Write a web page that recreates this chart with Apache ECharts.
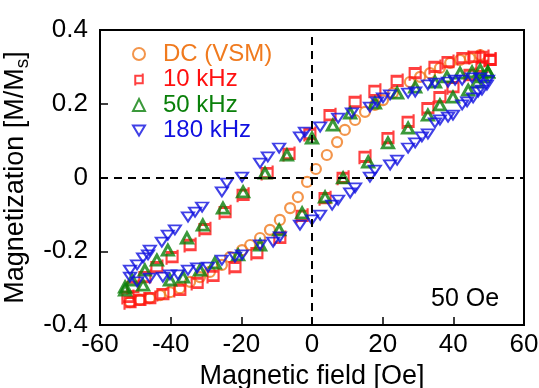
<!DOCTYPE html>
<html>
<head>
<meta charset="utf-8">
<script src="https://cdn.jsdelivr.net/npm/echarts@6/dist/echarts.min.js"></script>
<style>
html,body{margin:0;padding:0;background:#fff;}
#c{width:539px;height:388px;}
</style>
</head>
<body>
<div id="c"></div>
<script>
// [H (Oe), M (M/Ms)]
const dcData = [[-51.5,-0.338],[-48.7,-0.332],[-45.9,-0.327],[-43.0,-0.319],[-40.2,-0.311],[-37.4,-0.300],[-34.5,-0.283],[-31.7,-0.270],[-28.9,-0.256],[-25.5,-0.237],[-23.2,-0.216],[-19.8,-0.197],[-17.5,-0.183],[-14.7,-0.164],[-11.9,-0.142],[-9.1,-0.115],[-6.2,-0.083],[-4.0,-0.053],[-1.4,-0.012],[1.1,0.023],[4.2,0.061],[7.1,0.096],[9.3,0.129],[12.2,0.156],[15.0,0.178],[17.8,0.197],[20.1,0.210],[22.9,0.229],[27.7,0.259],[30.6,0.273],[33.4,0.283],[36.2,0.297],[39.1,0.311],[41.9,0.319],[44.7,0.324],[47.6,0.332]];

const k10Upper = [[50.4,0.319],[48.4,0.327],[46.1,0.327],[42.7,0.324],[38.5,0.313],[34.8,0.300],[29.2,0.283],[24.1,0.262],[17.8,0.235],[12.2,0.205],[5.1,0.169],[-0.6,0.118],[-6.5,0.064],[-12.7,0.012],[-19.5,-0.047],[-24.6,-0.094],[-30.3,-0.140],[-34.5,-0.183],[-39.6,-0.216],[-43.9,-0.243],[-47.3,-0.270],[-50.7,-0.297],[-52.1,-0.324]];
const k10Lower = [[-51.5,-0.338],[-48.7,-0.332],[-45.9,-0.327],[-42.2,-0.316],[-37.4,-0.305],[-32.5,-0.286],[-28.0,-0.267],[-21.8,-0.243],[-15.6,-0.205],[-9.1,-0.164],[-2.8,-0.104],[3.7,-0.056],[8.8,-0.001],[15.0,0.056],[21.5,0.107],[27.2,0.151],[32.8,0.188],[36.2,0.218],[39.9,0.245],[44.7,0.278],[48.1,0.300],[50.4,0.319]];

const k50Upper = [[49.8,0.286],[47.6,0.292],[45.3,0.286],[41.9,0.283],[38.2,0.273],[34.8,0.259],[29.2,0.245],[24.1,0.229],[17.8,0.202],[10.8,0.175],[5.9,0.142],[0.0,0.107],[-7.1,0.061],[-13.3,0.012],[-19.5,-0.039],[-25.2,-0.083],[-30.9,-0.129],[-35.4,-0.164],[-40.8,-0.197],[-43.9,-0.224],[-47.3,-0.251],[-50.9,-0.278],[-52.9,-0.297]];
const k50Lower = [[-52.9,-0.305],[-47.8,-0.292],[-40.2,-0.278],[-36.5,-0.270],[-31.7,-0.251],[-27.5,-0.232],[-20.9,-0.210],[-14.7,-0.183],[-9.3,-0.142],[-2.8,-0.096],[3.7,-0.053],[8.8,-0.001],[15.9,0.042],[21.5,0.094],[27.2,0.134],[32.8,0.169],[36.2,0.197],[39.9,0.218],[44.2,0.237],[46.7,0.259],[48.4,0.273],[49.8,0.286]];

const k180Upper = [[49.8,0.264],[47.6,0.270],[45.3,0.270],[42.5,0.264],[40.5,0.264],[38.5,0.259],[34.8,0.256],[32.8,0.251],[29.2,0.232],[27.2,0.229],[22.1,0.224],[20.1,0.216],[18.4,0.205],[16.4,0.191],[11.3,0.175],[7.4,0.161],[2.3,0.137],[-2.0,0.123],[-3.4,0.110],[-9.3,0.080],[-12.5,0.056],[-14.7,0.039],[-19.8,0.001],[-24.1,-0.015],[-25.5,-0.039],[-31.1,-0.080],[-33.1,-0.094],[-35.1,-0.107],[-38.8,-0.142],[-40.8,-0.156],[-42.5,-0.175],[-45.9,-0.197],[-46.4,-0.210],[-47.8,-0.218],[-49.5,-0.237],[-51.5,-0.251],[-51.5,-0.270]];
const k180Lower = [[-49.5,-0.283],[-45.9,-0.273],[-42.2,-0.270],[-40.2,-0.264],[-37.9,-0.264],[-35.1,-0.251],[-32.5,-0.245],[-29.4,-0.243],[-25.5,-0.224],[-21.8,-0.216],[-19.8,-0.210],[-14.7,-0.183],[-11.0,-0.175],[-9.1,-0.161],[-3.4,-0.129],[0.0,-0.115],[2.3,-0.102],[5.7,-0.075],[7.4,-0.061],[10.8,-0.042],[12.2,-0.028],[16.4,0.001],[17.8,0.020],[22.1,0.034],[24.1,0.047],[27.2,0.080],[29.2,0.094],[31.1,0.110],[32.8,0.118],[34.8,0.148],[36.2,0.156],[38.5,0.164],[39.9,0.169],[42.5,0.197],[43.9,0.205],[45.6,0.216],[47.0,0.232],[48.1,0.237],[49.5,0.251]];

const seriesNames = ['DC (VSM)', '10 kHz', '50 kHz', '180 kHz'];
const xTicks = [-60, -40, -20, 0, 20, 40, 60];
const yTicks = [-0.4, -0.2, 0, 0.2, 0.4];
</script>
<script>
const FONT = '"Liberation Sans", Arial, Helvetica, sans-serif';
const colors = ['#F07A1E', '#FF1010', '#0A800A', '#1010E0'];
const chart = echarts.init(document.getElementById('c'), null, {renderer: 'canvas'});
const redPath = 'path://M0,3 L10,3 L10,13 L0,13 Z M10,0 L10,3 M0,13 L0,16';
const downTri = 'path://M0,0 L12,0 L6,10 Z';
const legendIcons = ['circle', redPath, 'triangle', downTri];

const option = {
  animation: false,
  backgroundColor: '#fff',
  grid: {left: 100, right: 15, top: 30, bottom: 63, outerBoundsMode: 'none', containLabel: false,
    show: true, borderColor: '#000', borderWidth: 2, backgroundColor: 'transparent'},
  xAxis: {
    type: 'value', min: xTicks[0], max: xTicks[xTicks.length-1], interval: 20,
    name: 'Magnetic field [Oe]', nameLocation: 'middle', nameGap: 38,
    nameTextStyle: {fontFamily: FONT, fontSize: 27, color: '#000'},
    axisLine: {show: true, onZero: false, lineStyle: {color: '#000', width: 2}},
    axisTick: {show: true, inside: true, length: 8, lineStyle: {color: '#000', width: 1.5}},
    axisLabel: {fontFamily: FONT, fontSize: 26, color: '#000', margin: 7},
    splitLine: {show: false}
  },
  yAxis: {
    type: 'value', min: yTicks[0], max: yTicks[yTicks.length-1], interval: 0.2,
    name: 'Magnetization [M/M{sub|s}]', nameLocation: 'middle', nameGap: 56,
    nameTextStyle: {fontFamily: FONT, fontSize: 27, color: '#000',
      rich: {sub: {fontFamily: FONT, fontSize: 19, color: '#000', padding: [14, 0, 0, 0], verticalAlign: 'bottom'}}},
    axisLine: {show: true, onZero: false, lineStyle: {color: '#000', width: 2}},
    axisTick: {show: true, inside: true, length: 8, lineStyle: {color: '#000', width: 1.5}},
    axisLabel: {fontFamily: FONT, fontSize: 26, color: '#000', margin: 12,
      formatter: v => (Math.abs(v) < 1e-9 ? '0' : String(+v.toFixed(1)))},
    splitLine: {show: false}
  },
  legend: {
    orient: 'vertical', left: 127, top: 37, itemWidth: 12, itemHeight: 12, itemGap: 1.5,
    data: seriesNames.map((n, i) => ({name: n, icon: legendIcons[i], textStyle: {color: colors[i]}})),
    textStyle: {fontFamily: FONT, fontSize: 24, lineHeight: 24, padding: [0, 0, 0, 13]}
  },
  graphic: [{
    type: 'text', left: 431, top: 287,
    style: {text: '50 Oe', fontFamily: FONT, fontSize: 25, fill: '#000'}
  }],
  series: [
    {
      name: seriesNames[0], type: 'scatter', data: dcData,
      symbol: 'circle', symbolSize: 10,
      itemStyle: {color: 'rgba(0,0,0,0)', borderColor: colors[0], borderWidth: 2.2},
      markLine: {
        silent: true, symbol: 'none', label: {show: false},
        lineStyle: {color: '#000', width: 2, type: [8, 6]},
        data: [{xAxis: 0}, {yAxis: 0}]
      }
    },
    {
      name: seriesNames[1], type: 'scatter', data: k10Upper.concat(k10Lower),
      symbol: redPath, symbolSize: [11, 15],
      itemStyle: {color: 'rgba(0,0,0,0)', borderColor: colors[1], borderWidth: 2.5}
    },
    {
      name: seriesNames[2], type: 'scatter', data: k50Upper.concat(k50Lower),
      symbol: 'triangle', symbolSize: [11, 10],
      itemStyle: {color: 'rgba(0,0,0,0)', borderColor: colors[2], borderWidth: 3}
    },
    {
      name: seriesNames[3], type: 'scatter', data: k180Upper.concat(k180Lower),
      symbol: 'triangle', symbolRotate: 180, symbolSize: [12, 9],
      itemStyle: {color: 'rgba(0,0,0,0)', borderColor: colors[3], borderWidth: 2}
    }
  ]
};
chart.setOption(option);
</script>
</body>
</html>
